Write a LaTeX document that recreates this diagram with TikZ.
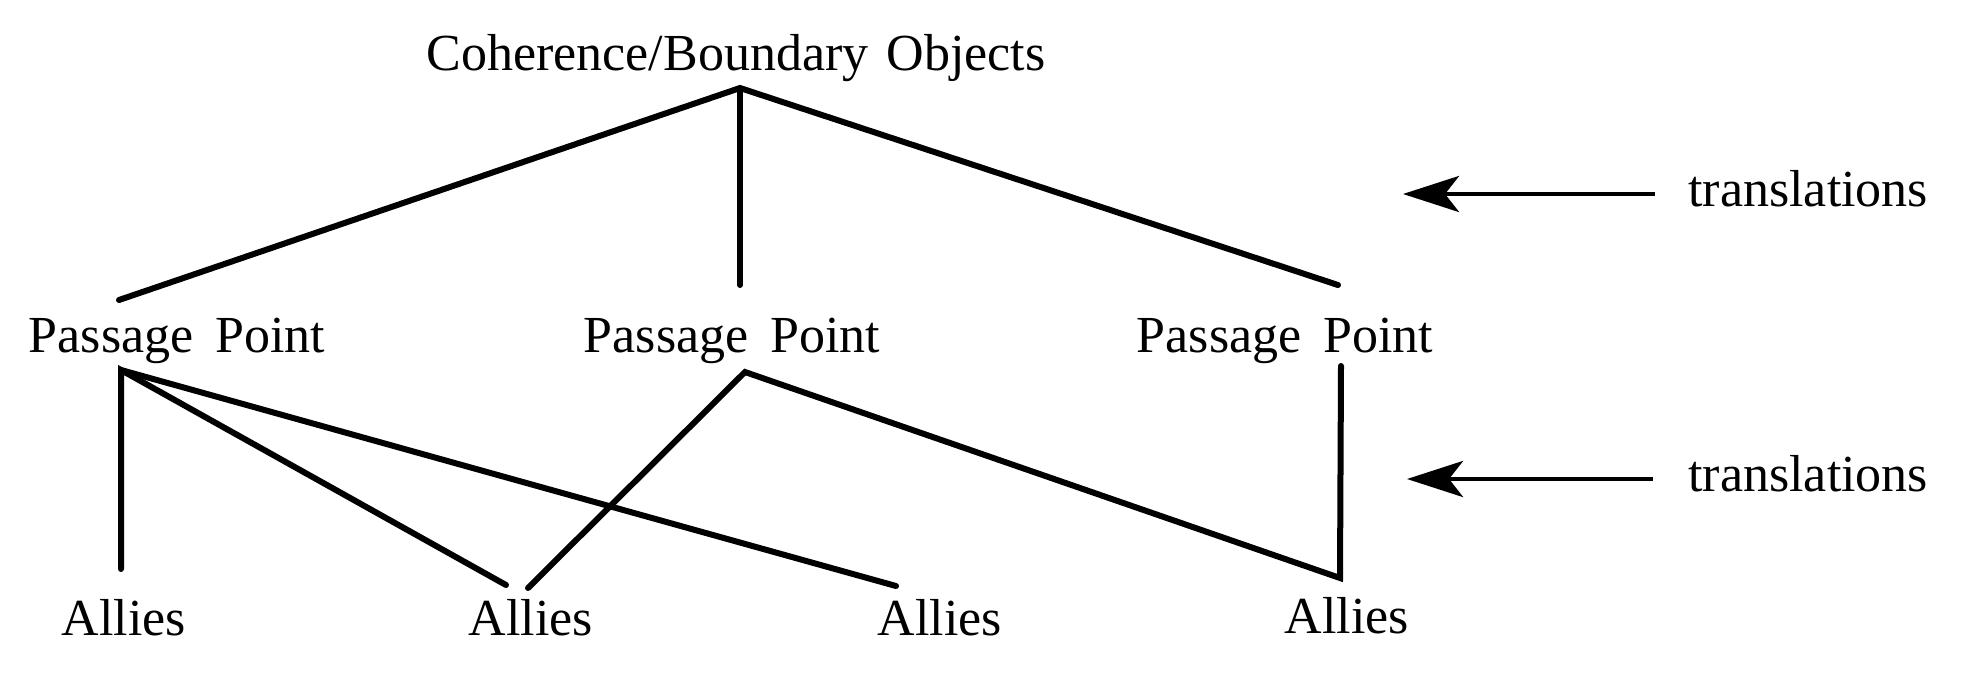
\documentclass[tikz,border=0pt]{standalone}
\usepackage{fontspec}
\setmainfont{Liberation Serif}
\usetikzlibrary{arrows.meta}
\newcommand{\wsp}{\hspace{0.42em}}
\begin{document}
\begin{tikzpicture}[x=0.5pt,y=-0.5pt,
  lbl/.style={inner sep=0pt,anchor=base,font=\fontsize{26pt}{30pt}\selectfont},
  lblw/.style={lbl,anchor=base west},
  link/.style={line width=3pt,line cap=round,line join=miter},
  transarrow/.style={line width=2.4pt,-{Stealth[length=28pt,width=18pt,inset=7pt]}}]
\useasboundingbox (0,0) rectangle (1961,692);
% labels
\node[lbl] (top) at (736,70) {Coherence/Boundary\hspace{0.35em}Objects};
\node[lbl] (ppA) at (177,352) {Passage\wsp Point};
\node[lbl] (ppB) at (732,352) {Passage\wsp Point};
\node[lbl] (ppC) at (1285,352) {Passage\wsp Point};
\node[lbl] (alA) at (124,635) {Allies};
\node[lbl] (alB) at (531,635) {Allies};
\node[lbl] (alC) at (940,635) {Allies};
\node[lbl] (alD) at (1347,633) {Allies};
\node[lblw] (trU) at (1688,206) {translations};
\node[lblw] (trL) at (1688,491) {translations};
% connector points
\coordinate (topX) at (740,88);
\coordinate (ppAup) at (119,300);
\coordinate (ppBup) at (740,285);
\coordinate (ppCup) at (1338,285);
\coordinate (ppAdn) at (121,370);
\coordinate (ppBdn) at (745,372);
\coordinate (ppCdn) at (1341,366);
\coordinate (alAup) at (121,569);
\coordinate (alBupL) at (506,585);
\coordinate (alBupR) at (528,588);
\coordinate (alCup) at (896,586);
\coordinate (alDup) at (1340,578);
\coordinate (arUs) at (1655,194);
\coordinate (arUe) at (1403,194);
\coordinate (arLs) at (1653,479);
\coordinate (arLe) at (1407,479);
% top level
\draw[link] (ppAup) -- (topX) -- (ppCup);
\draw[link] (topX) -- (ppBup);
% passage points to allies
\draw[link] (alAup) -- (ppAdn) -- (alBupL);
\draw[link] (ppAdn) -- (alCup);
\draw[link] (alBupR) -- (ppBdn) -- (alDup) -- (ppCdn);
% arrows
\draw[transarrow] (arUs) -- (arUe);
\draw[transarrow] (arLs) -- (arLe);
\end{tikzpicture}
\end{document}
